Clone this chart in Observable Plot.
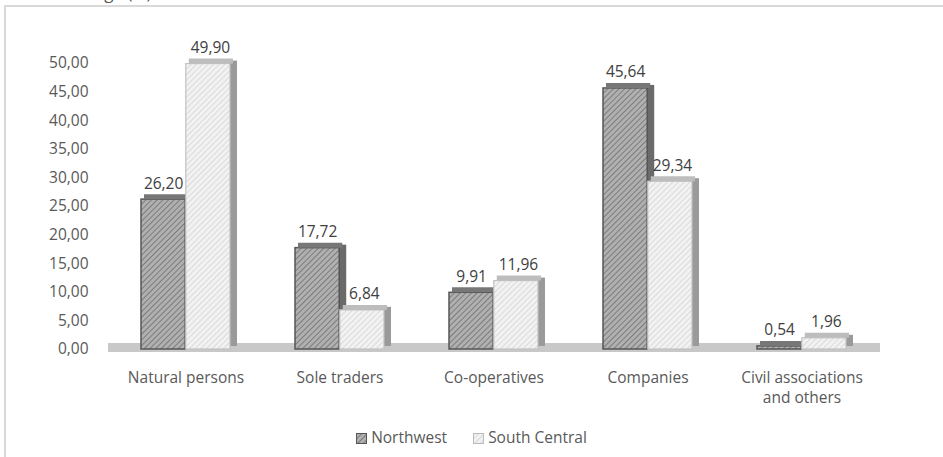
<!DOCTYPE html>
<html><head><meta charset="utf-8">
<script src="https://cdn.jsdelivr.net/npm/d3@7"></script>
<script src="https://cdn.jsdelivr.net/npm/@observablehq/plot@0.6"></script>
<style>
body{margin:0;background:#fff;font-family:"Open Sans",sans-serif;}
#wrap{position:relative;width:943px;height:457px;overflow:hidden;background:#fff;}
#frame{position:absolute;left:4px;top:5px;width:980px;height:480px;border-left:2px solid #d9d9d9;border-top:2px solid #d9d9d9;}
#title{position:absolute;left:34px;top:-19px;font-size:17px;color:#595959;white-space:nowrap;}
#chart{position:absolute;left:0;top:0;}
#legend{position:absolute;left:0;top:426px;width:943px;text-align:center;font-size:15.5px;color:#595959;}
#legend span.item{display:inline-block;margin:0 13px;}
#legend svg{vertical-align:-1px;margin-right:4px;}
</style></head>
<body>
<div id="wrap">
<div id="title">Percentage (%)</div>
<div id="frame"></div>
<div id="chart"></div>
<div id="legend"></div>
</div>
<script>
const categories = ["Natural persons","Sole traders","Co-operatives","Companies","Civil associations\nand others"];
const series = ["Northwest","South Central"];
const northwest = [26.20,17.72,9.91,45.64,0.54];
const southCentral = [49.90,6.84,11.96,29.34,1.96];
const yTicks = [0,5,10,15,20,25,30,35,40,45,50];

const fmt = d => d.toFixed(2).replace(".", ",");
const nwData = categories.map((c,i) => ({category:c, value:northwest[i]}));
const scData = categories.map((c,i) => ({category:c, value:southCentral[i]}));

const W = 943, ML = 108, MR = 63, PI = 0.42;
const bw = (W-ML-MR)/categories.length*(1-PI);
const half = bw/2;

const chart = Plot.plot({
  width: W, height: 420,
  marginLeft: ML, marginRight: MR, marginTop: 63, marginBottom: 71,
  style: {fontFamily: "'Open Sans', sans-serif", fontSize: "15.5px", color: "#595959", background: "transparent"},
  x: {domain: categories, paddingInner: PI, paddingOuter: PI/2, label: null},
  y: {domain: [0,50], ticks: yTicks, tickFormat: fmt, label: null},
  marks: [
    Plot.axisY({ticks: yTicks, tickFormat: fmt, tickSize: 0, tickPadding: 20, label: null, fontSize: 15.5, fill: "#595959"}),
    Plot.axisX({tickSize: 0, tickPadding: 19, label: null, lineHeight: 1.3, fontSize: 15.5, fill: "#595959"}),
    Plot.ruleY([0], {stroke: "#c8c8c8", strokeWidth: 9, dy: -2}),
    Plot.barY(nwData, {x: "category", y: "value", insetLeft: half-2, insetRight: half-7, fill: "#6a6a6a", dy: -3}),
    Plot.barY(nwData, {x: "category", y: "value", insetRight: half, fill: "url(#hatchNW)", stroke: "#555", strokeWidth: 1.5}),
    Plot.tickY(nwData, {x: "category", y: "value", insetRight: half, stroke: "#777", strokeWidth: 5, dy: -3, dx: 3}),
    Plot.barY(scData, {x: "category", y: "value", insetLeft: bw-2, insetRight: -7, fill: "#9a9a9a", dy: -3}),
    Plot.barY(scData, {x: "category", y: "value", insetLeft: half, fill: "url(#hatchSC)", stroke: "#c2c2c2", strokeWidth: 1.2}),
    Plot.tickY(scData, {x: "category", y: "value", insetLeft: half, stroke: "#bdbdbd", strokeWidth: 5, dy: -3, dx: 3}),
    Plot.text(nwData, {x: "category", y: "value", text: d => fmt(d.value), dx: -half/2, dy: -16, fill: "#404040", fontSize: 15.5}),
    Plot.text(scData, {x: "category", y: "value", text: d => fmt(d.value), dx: half/2+2, dy: -16, fill: "#404040", fontSize: 15.5})
  ]
});

const defs = `<defs>
<pattern id="hatchNW" patternUnits="userSpaceOnUse" width="4" height="4" patternTransform="rotate(45)">
<rect width="4" height="4" fill="#b0b0b0"/><line x1="0" y1="0" x2="0" y2="4" stroke="#7c7c7c" stroke-width="2"/></pattern>
<pattern id="hatchSC" patternUnits="userSpaceOnUse" width="4" height="4" patternTransform="rotate(45)">
<rect width="4" height="4" fill="#f2f2f2"/><line x1="0" y1="0" x2="0" y2="4" stroke="#d4d4d4" stroke-width="1.6"/></pattern>
</defs>`;
chart.insertAdjacentHTML("afterbegin", defs);
document.getElementById("chart").appendChild(chart);

const swatch = (id, stroke) => `<svg width="11" height="11"><rect x="0.5" y="0.5" width="10" height="10" fill="url(#${id})" stroke="${stroke}"/></svg>`;
document.getElementById("legend").innerHTML = series.map((s,i) =>
  `<span class="item">${swatch(i===0?"hatchNW":"hatchSC", i===0?"#555":"#bbb")}${s}</span>`).join("");
</script>
</body></html>
